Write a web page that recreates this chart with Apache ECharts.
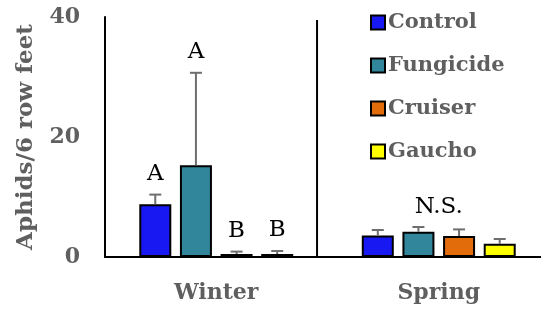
<!DOCTYPE html>
<html><head><meta charset="utf-8">
<script src="https://cdn.jsdelivr.net/npm/echarts@6/dist/echarts.min.js"></script>
<style>html,body{margin:0;padding:0;background:#fff}#c{width:541px;height:309px}</style>
</head><body><div id="c"></div>
<script>
var categories = ['Winter', 'Spring'];
var seriesNames = ['Control', 'Fungicide', 'Cruiser', 'Gaucho'];
var control = [8.8, 3.6];
var fungicide = [15.3, 4.2];
var cruiser = [0.5, 3.5];
var gaucho = [0.5, 2.2];
var controlErr = [10.4, 4.5];
var fungicideErr = [30.7, 5.0];
var cruiserErr = [0.9, 4.6];
var gauchoErr = [1.0, 3.0];
var winterLetters = ['A', 'A', 'B', 'B'];
var springLetter = 'N.S.';
var yTicks = [0, 20, 40];

var colors = ['#1818f2', '#31869b', '#e36c0a', '#ffff00'];
var values = [control, fungicide, cruiser, gaucho];
var errs = [controlErr, fungicideErr, cruiserErr, gauchoErr];
var BAR_W = 32, GAP = 0.27, PITCH = BAR_W * (1 + GAP);
var boldFont = 'DejaVu Serif';
var gray = '#5f5f5f';

var chart = echarts.init(document.getElementById('c'));
var series = [];
seriesNames.forEach(function (n, i) {
  series.push({
    name: n, type: 'bar', data: values[i], barWidth: BAR_W, barGap: (GAP * 100) + '%',
    itemStyle: { color: colors[i], borderColor: '#000', borderWidth: 2 },
    z: 2
  });
});
seriesNames.forEach(function (n, i) {
  var data = categories.map(function (c, k) { return [k, values[i][k], errs[i][k]]; });
  series.push({
    type: 'custom', z: 5, silent: true,
    data: data,
    renderItem: function (params, api) {
      var k = api.value(0);
      var base = api.coord([k, api.value(1)]);
      var top = api.coord([k, api.value(2)]);
      var x = base[0] + (i - 1.5) * PITCH;
      var children = [
        { type: 'line', shape: { x1: x, y1: base[1], x2: x, y2: top[1] }, style: { stroke: '#6e6e6e', lineWidth: 2 } },
        { type: 'line', shape: { x1: x - 6, y1: top[1], x2: x + 6, y2: top[1] }, style: { stroke: '#6e6e6e', lineWidth: 2 } }
      ];
      if (k === 0) {
        children.push({ type: 'text', style: { text: winterLetters[i], x: x, y: top[1] - 21, align: 'center', verticalAlign: 'middle', fill: '#000', font: '23px "DejaVu Serif"' } });
      } else if (i === 1) {
        children.push({ type: 'text', style: { text: springLetter, x: base[0], y: top[1] - 20, align: 'center', verticalAlign: 'middle', fill: '#000', font: '23px "DejaVu Serif"' } });
      }
      return { type: 'group', children: children };
    }
  });
});

chart.setOption({
  animation: false,
  grid: { left: 105, width: 445, top: 17, bottom: 52, containLabel: false, outerBoundsMode: 'none' },
  legend: {
    orient: 'vertical', left: 365, top: 7, itemWidth: 14, itemHeight: 14, itemGap: 22,
    data: seriesNames,
    icon: 'rect',
    itemStyle: { borderColor: '#000', borderWidth: 2 },
    textStyle: { fontFamily: boldFont, fontWeight: 'bold', fontSize: 21, color: gray, padding: [0, 0, 0, -2] }
  },
  xAxis: {
    type: 'category', data: categories,
    axisLine: { lineStyle: { color: '#000', width: 2 } },
    axisTick: { show: false },
    axisLabel: { fontFamily: boldFont, fontWeight: 'bold', fontSize: 22, color: gray, margin: 25 }
  },
  yAxis: {
    type: 'value', min: 0, max: 40, interval: 20,
    name: 'Aphids/6 row feet', nameLocation: 'middle', nameGap: 67,
    nameTextStyle: { fontFamily: boldFont, fontWeight: 'bold', fontSize: 23, color: gray },
    axisLine: { show: true, lineStyle: { color: '#000', width: 2 } },
    axisTick: { show: false },
    splitLine: { show: false },
    axisLabel: { fontFamily: boldFont, fontWeight: 'bold', fontSize: 22, color: gray, margin: 25,
      formatter: function (v) { return yTicks.indexOf(v) >= 0 ? String(v) : ''; } }
  },
  series: series
});

var p0 = chart.convertToPixel({ gridIndex: 0 }, [0, 0]);
var p1 = chart.convertToPixel({ gridIndex: 0 }, [1, 0]);
var pTop = chart.convertToPixel({ gridIndex: 0 }, [0, 39.5]);
var xd = p0[0] + (p1[0] - p0[0]) * 0.453;
chart.setOption({ graphic: [{ type: 'line', shape: { x1: xd, y1: pTop[1], x2: xd, y2: p0[1] }, style: { stroke: '#000', lineWidth: 2 }, z: 10 }] });
</script>
</body></html>
